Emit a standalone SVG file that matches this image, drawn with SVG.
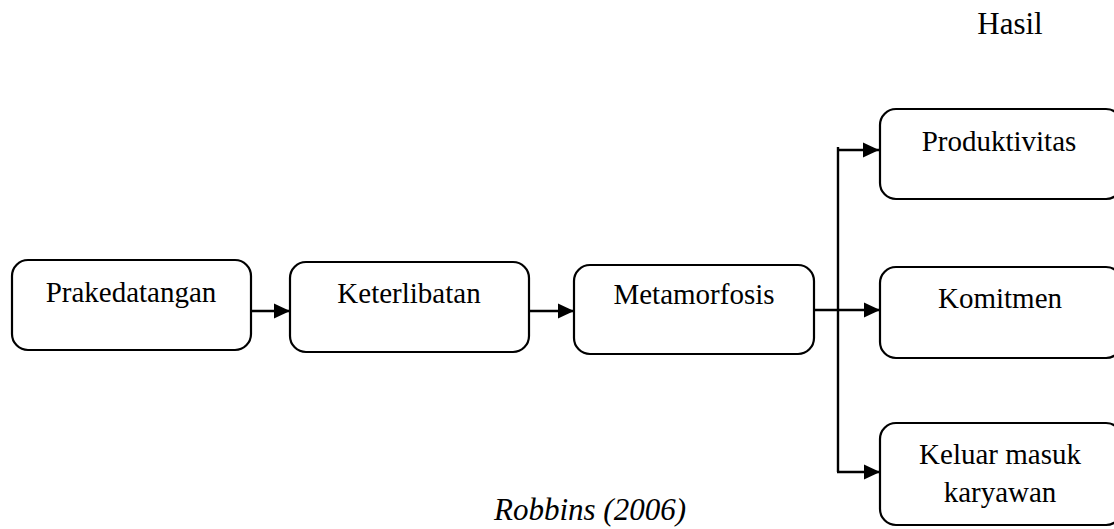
<svg xmlns="http://www.w3.org/2000/svg" width="1114" height="529" viewBox="0 0 1114 529">
<style>
.box{fill:#fff;stroke:#000;stroke-width:2.2}
.t{font-family:"Liberation Serif","Times New Roman",serif;font-size:29px;fill:#000;text-anchor:middle}
.c{fill:none;stroke:#000;stroke-width:2.4}
</style>
<defs>
<marker id="ah" markerUnits="userSpaceOnUse" markerWidth="17" markerHeight="16" refX="16" refY="8" orient="auto">
<path d="M0,0.5 L16,8 L0,15.5 Z" fill="#000"/>
</marker>
</defs>
<rect width="1114" height="529" fill="#fff"/>
<text class="t" x="1010" y="34" style="font-size:31px">Hasil</text>
<g id="n1"><rect class="box" x="12" y="260" width="239" height="90" rx="16"/><text class="t" x="131" y="302">Prakedatangan</text></g>
<g id="n2"><rect class="box" x="290" y="262" width="239" height="90" rx="16"/><text class="t" x="409" y="303">Keterlibatan</text></g>
<g id="n3"><rect class="box" x="574" y="265" width="240" height="89" rx="16"/><text class="t" x="694" y="304">Metamorfosis</text></g>
<g id="n4"><rect class="box" x="880" y="109" width="242" height="90" rx="16"/><text class="t" x="999" y="151">Produktivitas</text></g>
<g id="n5"><rect class="box" x="880" y="267" width="242" height="91" rx="16"/><text class="t" x="1000" y="308">Komitmen</text></g>
<g id="n6"><rect class="box" x="880" y="423" width="242" height="102" rx="16"/><text class="t" x="1000" y="464">Keluar masuk</text><text class="t" x="1000" y="502">karyawan</text></g>
<g id="connectors">
<path class="c" d="M251,311 H290" marker-end="url(#ah)"/>
<path class="c" d="M529,311 H574" marker-end="url(#ah)"/>
<path class="c" d="M814,310 H880" marker-end="url(#ah)"/>
<path class="c" d="M838,147 V472"/>
<path class="c" d="M837,150 H879" marker-end="url(#ah)"/>
<path class="c" d="M837,472 H880" marker-end="url(#ah)"/>
</g>
<text class="t" x="590" y="520" style="font-style:italic;font-size:31px">Robbins (2006)</text>
</svg>
